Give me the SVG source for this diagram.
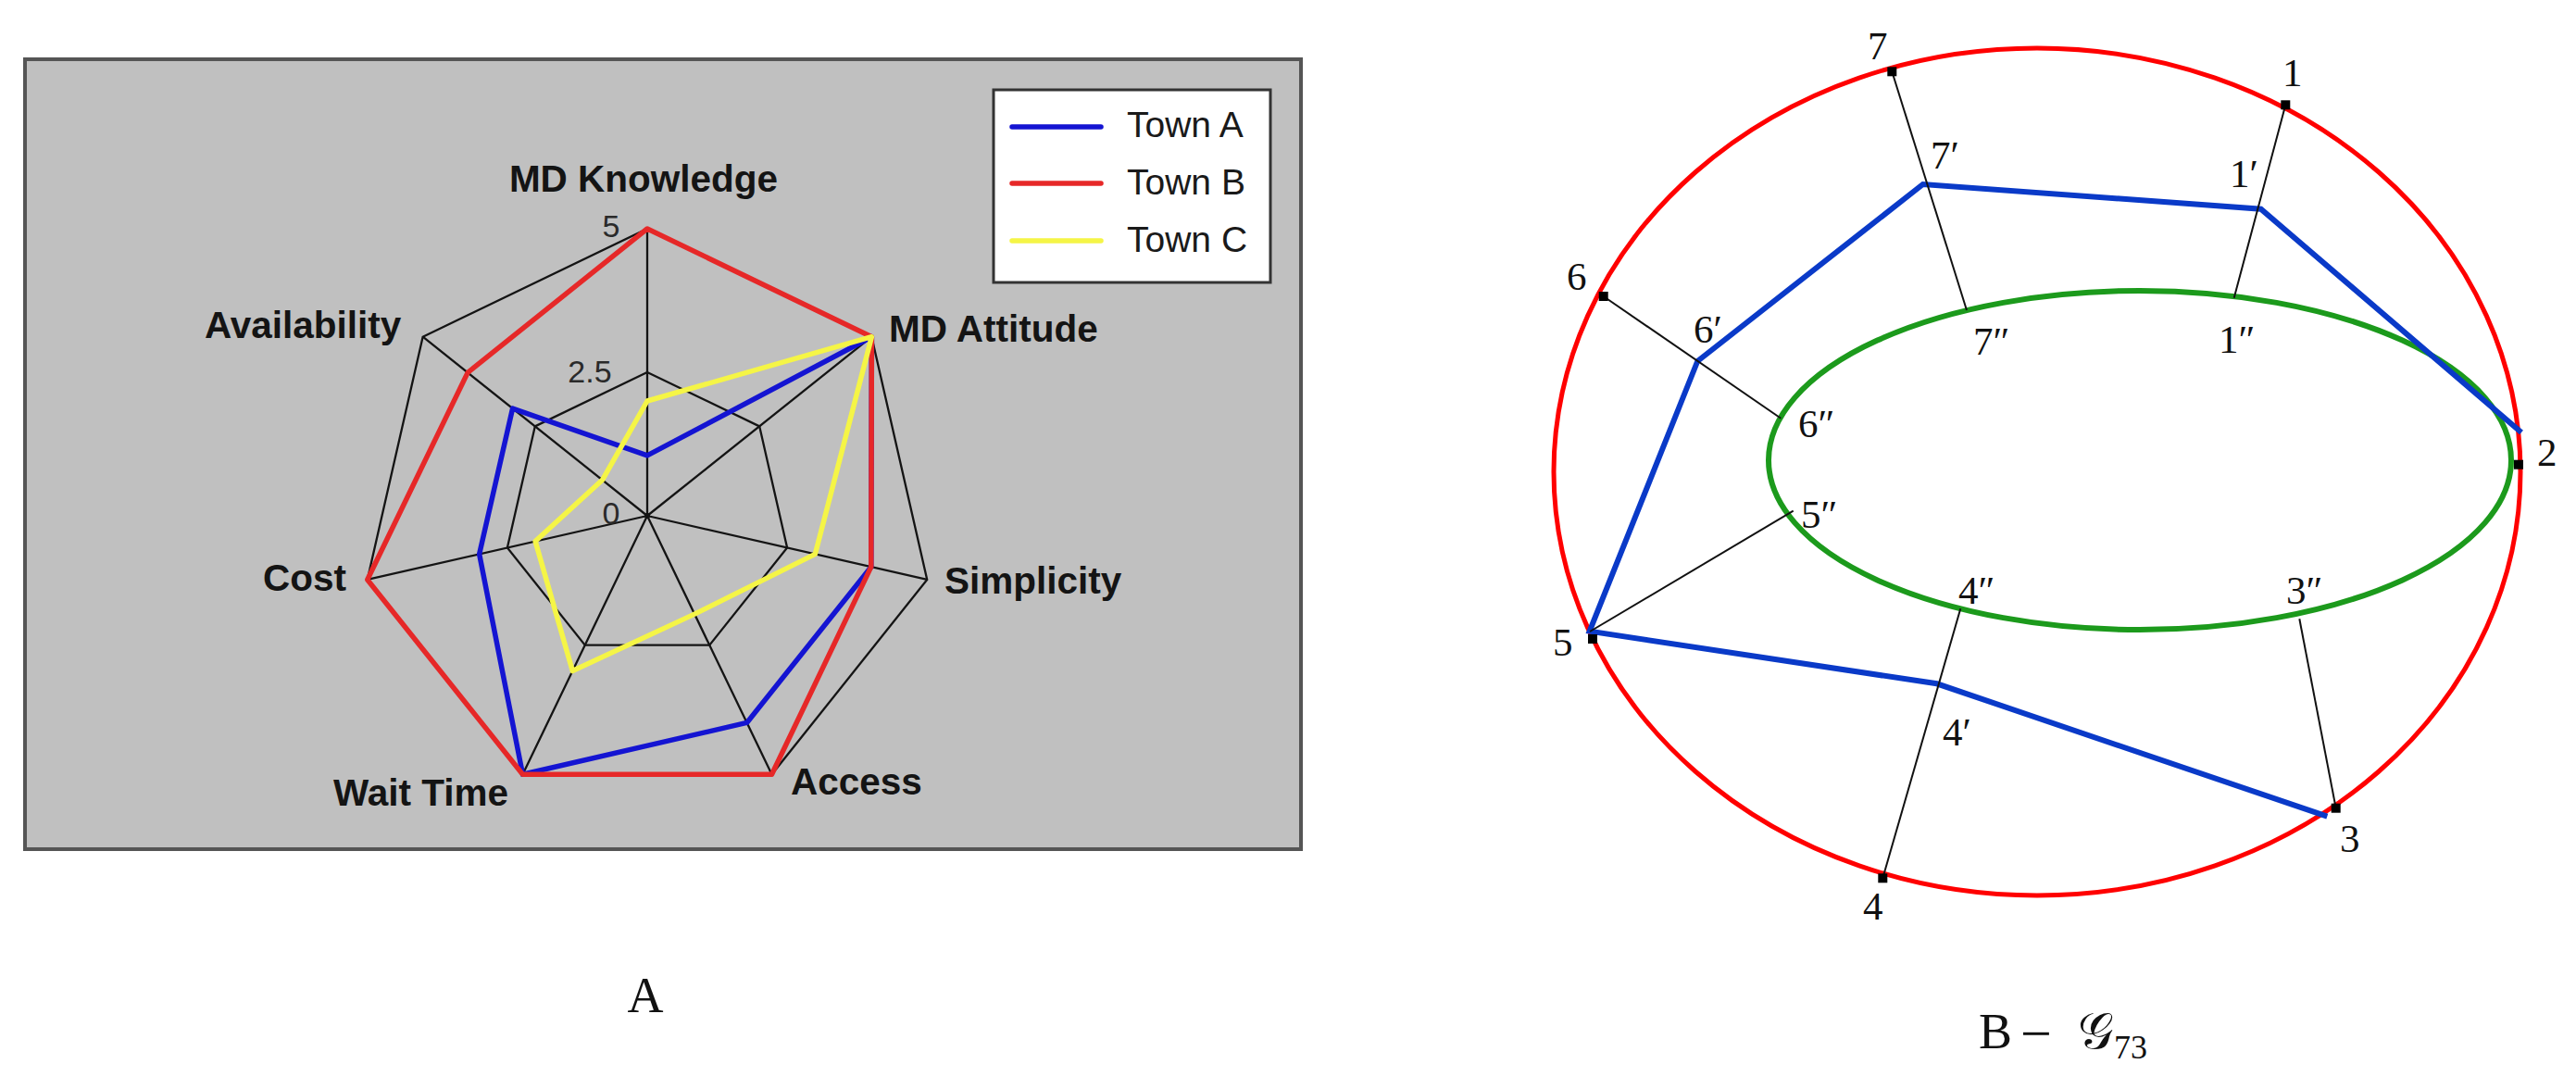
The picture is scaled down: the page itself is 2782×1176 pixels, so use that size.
<svg xmlns="http://www.w3.org/2000/svg" width="2782" height="1176" viewBox="0 0 2782 1176">
<style>
.lab{font-family:"Liberation Sans",Arial,sans-serif;font-weight:bold;font-size:40.5px;fill:#141414}
.num{font-family:"Liberation Sans",Arial,sans-serif;font-size:34px;fill:#2a2a2a;text-anchor:middle}
.leg{font-family:"Liberation Sans",Arial,sans-serif;font-size:39px;fill:#1a1a1a}
.grid{fill:none;stroke:#141414;stroke-width:2.3;stroke-linejoin:miter}
.ser{fill:none;stroke-width:5.5;stroke-linejoin:round;stroke-linecap:round}
.sa{stroke:#1414d2}
.sb{stroke:#e62828}
.sc{stroke:#f5f546}
.pt{font-family:"Liberation Serif","DejaVu Serif",serif;font-size:43px;fill:#111}
.cap{font-family:"Liberation Serif","DejaVu Serif",serif;font-size:54px;fill:#111}
.conn{stroke:#111;stroke-width:2;fill:none}
.sq{fill:#000}
</style>
<rect width="2782" height="1176" fill="#ffffff"/>
<g id="panel-A">
  <rect id="plot-bg" x="27" y="64" width="1378" height="853" fill="#c0c0c0" stroke="#555" stroke-width="4"/>
  <g id="radar-grid">
    <polygon class="grid" points="699,247 941.37,363.72 1001.23,625.98 833.5,836.3 564.5,836.3 396.77,625.98 456.63,363.72"/>
    <polygon class="grid" points="699,402 820.18,460.36 850.11,591.49 766.25,696.65 631.75,696.65 547.89,591.49 577.82,460.36"/>
    <path class="grid" d="M699 557L699 247M699 557L941.37 363.72M699 557L1001.23 625.98M699 557L833.5 836.3M699 557L564.5 836.3M699 557L396.77 625.98M699 557L456.63 363.72"/>
    <circle cx="699" cy="557" r="3" fill="#141414"/>
  </g>
  <g id="series">
    <polygon id="town-a" class="ser sa" points="699,491.9 941.37,363.72 940.78,612.18 806.6,780.44 564.5,836.3 517.66,598.39 553.58,441.03"/>
    <polygon id="town-b" class="ser sb" points="699,247 941.37,363.72 940.78,612.18 833.5,836.3 564.5,836.3 396.77,625.98 505.11,402.37"/>
    <polygon id="town-c" class="ser sc" points="699,433 941.37,363.72 880.34,598.39 750.11,663.13 618.3,724.58 578.11,584.59 650.53,518.34"/>
  </g>
  <g id="scale-labels">
    <text class="num" x="660" y="256">5</text>
    <text class="num" x="637" y="413">2.5</text>
    <text class="num" x="660" y="566">0</text>
  </g>
  <g id="axis-labels">
    <text class="lab" x="695" y="207" text-anchor="middle">MD Knowledge</text>
    <text class="lab" x="960" y="369">MD Attitude</text>
    <text class="lab" x="1020" y="641">Simplicity</text>
    <text class="lab" x="854" y="858">Access</text>
    <text class="lab" x="360" y="870">Wait Time</text>
    <text class="lab" x="284" y="638">Cost</text>
    <text class="lab" x="221" y="365">Availability</text>
  </g>
  <g id="legend">
    <rect x="1073" y="97" width="299" height="208" fill="#ffffff" stroke="#333" stroke-width="3"/>
    <line class="ser sa" x1="1093" y1="137" x2="1189" y2="137"/>
    <line class="ser sb" x1="1093" y1="198" x2="1189" y2="198"/>
    <line class="ser sc" x1="1093" y1="260" x2="1189" y2="260"/>
    <text class="leg" x="1217" y="148">Town A</text>
    <text class="leg" x="1217" y="210">Town B</text>
    <text class="leg" x="1217" y="272">Town C</text>
  </g>
  <text id="caption-A" class="cap" x="697" y="1093" text-anchor="middle">A</text>
</g>
<g id="panel-B">
  <g id="curves">
    <ellipse id="outer-red" cx="2200" cy="509.5" rx="522" ry="457.5" fill="none" stroke="#ff0000" stroke-width="5"/>
    <ellipse id="inner-green" cx="2311" cy="497" rx="401" ry="183" fill="none" stroke="#1c9a1c" stroke-width="6"/>
    <polyline id="blue-path" points="2723,467 2441.7,225.7 2076.7,199 1833.3,390 1716.7,681.7 2091.7,738.3 2513.3,881.7" fill="none" stroke="#0a3ac8" stroke-width="6" stroke-linejoin="miter"/>
  </g>
  <g id="connectors">
    <line class="conn" x1="2043.3" y1="77.3" x2="2124" y2="335"/>
    <line class="conn" x1="2468.3" y1="113.3" x2="2412.7" y2="321.7"/>
    <line class="conn" x1="1731.7" y1="320" x2="1923.3" y2="451.7"/>
    <line class="conn" x1="1717" y1="682" x2="1936.7" y2="551.7"/>
    <line class="conn" x1="2033.3" y1="948.3" x2="2117.3" y2="657.3"/>
    <line class="conn" x1="2522.7" y1="872.7" x2="2483.3" y2="668.3"/>
  </g>
  <g id="node-1"><rect class="sq" x="2463.3" y="108.3" width="10" height="10"/><text class="pt" x="2465" y="93">1</text></g>
  <g id="node-2"><rect class="sq" x="2715" y="496.7" width="10" height="10"/><text class="pt" x="2740" y="503">2</text></g>
  <g id="node-3"><rect class="sq" x="2517.7" y="867.7" width="10" height="10"/><text class="pt" x="2527" y="920">3</text></g>
  <g id="node-4"><rect class="sq" x="2028.3" y="943.3" width="10" height="10"/><text class="pt" x="2012" y="993">4</text></g>
  <g id="node-5"><rect class="sq" x="1715" y="685" width="10" height="10"/><text class="pt" x="1677" y="708">5</text></g>
  <g id="node-6"><rect class="sq" x="1726.7" y="315" width="10" height="10"/><text class="pt" x="1692" y="313">6</text></g>
  <g id="node-7"><rect class="sq" x="2038.3" y="72.3" width="10" height="10"/><text class="pt" x="2017" y="64">7</text></g>
  <g id="node-1p"><text class="pt" x="2408" y="202">1′</text></g>
  <g id="node-7p"><text class="pt" x="2085" y="182">7′</text></g>
  <g id="node-6p"><text class="pt" x="1829" y="370">6′</text></g>
  <g id="node-4p"><text class="pt" x="2098" y="805">4′</text></g>
  <g id="node-1pp"><text class="pt" x="2396" y="381">1″</text></g>
  <g id="node-7pp"><text class="pt" x="2131" y="383">7″</text></g>
  <g id="node-6pp"><text class="pt" x="1942" y="472">6″</text></g>
  <g id="node-5pp"><text class="pt" x="1945" y="570">5″</text></g>
  <g id="node-4pp"><text class="pt" x="2115" y="652">4″</text></g>
  <g id="node-3pp"><text class="pt" x="2469" y="652">3″</text></g>
  <text id="caption-B" class="cap" y="1132"><tspan x="2137">B</tspan><tspan x="2182" y="1136" font-size="60">−</tspan><tspan x="2244" y="1132" font-family="'DejaVu Serif','DejaVu Sans','Noto Sans',serif">𝒢</tspan><tspan x="2283" y="1143" font-size="36">73</tspan></text>
</g>
</svg>
